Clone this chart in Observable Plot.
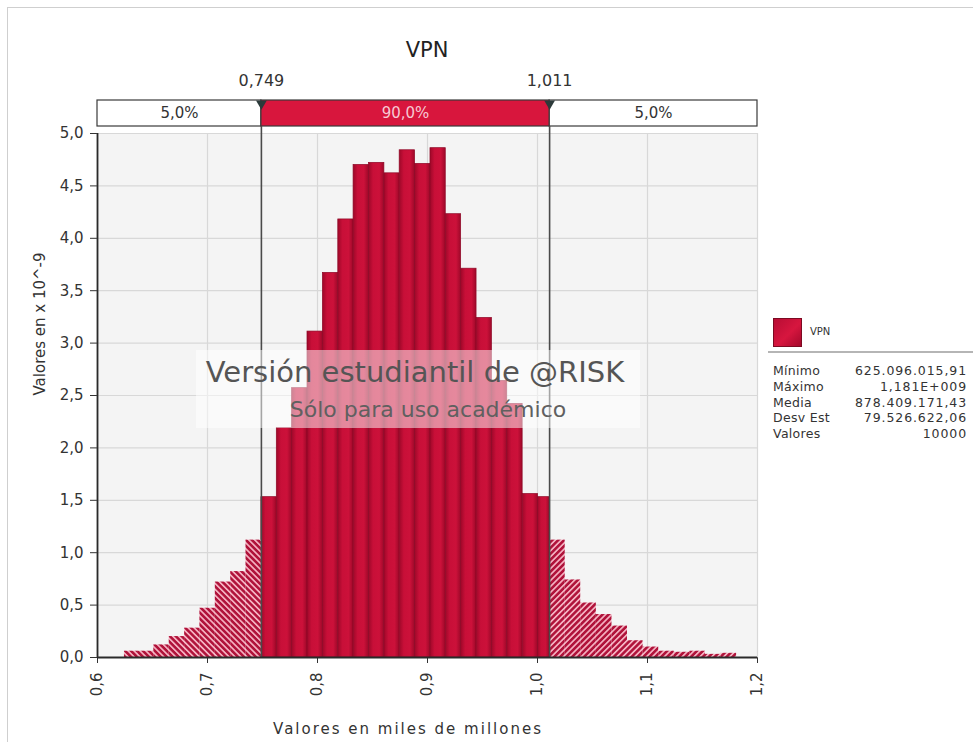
<!DOCTYPE html>
<html><head><meta charset="utf-8">
<script src="https://cdn.jsdelivr.net/npm/d3@7"></script>
<script src="https://cdn.jsdelivr.net/npm/@observablehq/plot@0.6"></script>
<style>
body{margin:0;background:#fff;font-family:"DejaVu Sans",sans-serif;}
#root{position:relative;width:973px;height:742px;overflow:hidden;background:#fff;}
.abs{position:absolute;white-space:nowrap;}
#root svg{overflow:visible;}
</style></head><body><div id="root"></div>
<script>
// ---- data ----
const binEdges = [0.6245,0.6372,0.6512,0.6652,0.6792,0.6931,0.7071,0.7211,0.7350,0.7490,
  0.7630,0.7769,0.7909,0.8049,0.8189,0.8328,0.8468,0.8608,0.8747,0.8887,0.9027,0.9166,0.9306,0.9446,0.9586,0.9725,0.9865,1.0005,1.0110,
  1.0252,1.0393,1.0535,1.0677,1.0818,1.0960,1.1102,1.1243,1.1385,1.1527,1.1668,1.1810];
const binDensity = [0.06,0.06,0.12,0.20,0.28,0.47,0.72,0.82,1.12,
  1.53,2.19,2.57,3.11,3.67,4.18,4.70,4.72,4.62,4.84,4.71,4.86,4.23,3.71,3.24,2.64,2.42,1.56,1.53,
  1.12,0.74,0.52,0.41,0.30,0.16,0.10,0.06,0.05,0.06,0.03,0.04];
const markerValues = [0.749, 1.011];
const markerLabels = ["0,749", "1,011"];
const bandEdges = [0.6, 0.749, 1.011, 1.2];
const bandLabels = ["5,0%", "90,0%", "5,0%"];
const xTicks = [0.6, 0.7, 0.8, 0.9, 1.0, 1.1, 1.2];
const yTicks = [0, 0.5, 1, 1.5, 2, 2.5, 3, 3.5, 4, 4.5, 5];
const statLabels = ["Mínimo", "Máximo", "Media", "Desv Est", "Valores"];
const statValues = ["625.096.015,91", "1,181E+009", "878.409.171,43", "79.526.622,06", "10000"];
const seriesName = "VPN";
const chartTitle = "VPN";
const xLabel = "Valores en miles de millones";
const yLabel = "Valores en x 10^-9";
const watermark1 = "Versión estudiantil de @RISK";
const watermark2 = "Sólo para uso académico";

// ---- derived tables ----
const [lo, hi] = markerValues;
const bins = binDensity.map((h, i) => ({x1: binEdges[i], x2: binEdges[i + 1], h}));
const solidBins = bins.filter(b => b.x1 >= lo - 1e-9 && b.x2 <= hi + 1e-9);
const leftBins = bins.filter(b => b.x2 <= lo + 1e-9);
const rightBins = bins.filter(b => b.x1 >= hi - 1e-9);
const markers = markerValues.map((v, i) => ({value: v, label: markerLabels[i]}));
const segs = bandLabels.map((l, i) => ({from: bandEdges[i], to: bandEdges[i + 1], label: l}));
const comma = d => d.toFixed(1).replace(".", ",");

const root = document.getElementById("root");
const FONT = "DejaVu Sans";
const ML = 97, MR = 216;

// outer frame
const frameDiv = document.createElement("div");
frameDiv.className = "abs";
frameDiv.style.cssText = "left:7px;top:7px;width:980px;height:760px;border:1px solid #cfcfcf;";
root.appendChild(frameDiv);

// title
const title = document.createElement("div");
title.className = "abs";
title.textContent = chartTitle;
title.style.cssText = `left:${ML}px;width:${973-ML-MR}px;top:38px;text-align:center;font-size:21px;line-height:24px;color:#222;`;
root.appendChild(title);

// ---- band plot (percentile bar) ----
const band = Plot.plot({
  width: 973, height: 66,
  marginLeft: ML, marginRight: MR, marginTop: 40, marginBottom: 0,
  x: {domain: [0.6, 1.2], axis: null},
  y: {domain: [0, 1], axis: null},
  style: {fontFamily: FONT, background: "transparent", overflow: "visible"},
  marks: [
    Plot.rect([segs[0], segs[2]], {x1: "from", x2: "to", y1: 0, y2: 1, fill: "white", stroke: "#3a3a3a", strokeWidth: 1.2}),
    Plot.rect([segs[1]], {x1: "from", x2: "to", y1: 0, y2: 1, fill: "#d8163d", stroke: "#3a3a3a", strokeWidth: 1.2}),
    Plot.text([segs[0], segs[2]], {x: d => (d.from + d.to) / 2, y: 0.5, text: "label", fill: "#333", fontSize: 15}),
    Plot.text([segs[1]], {x: d => (d.from + d.to) / 2, y: 0.5, text: "label", fill: "#f6c9d3", fontSize: 15}),
    Plot.dot(markers, {x: "value", y: 1, symbol: "triangle", r: 4, rotate: 180, fill: "#2c3a3a", dy: 3}),
    Plot.text(markers, {x: "value", y: 1, text: "label", dy: -20, fill: "#333", fontSize: 16})
  ]
});
band.style.position = "absolute"; band.style.left = "0px"; band.style.top = "60px";
root.appendChild(band);

// ---- main histogram ----
const main = Plot.plot({
  width: 973, height: 616,
  marginLeft: ML, marginRight: MR, marginTop: 7, marginBottom: 85,
  x: {domain: [0.6, 1.2], ticks: xTicks, tickFormat: comma, tickRotate: -90, tickSize: 6, tickPadding: 9, label: null},
  y: {domain: [0, 5], ticks: yTicks, tickFormat: comma, tickSize: 7, tickPadding: 7, label: null},
  style: {fontFamily: FONT, fontSize: "15px", color: "#333", background: "transparent", overflow: "visible"},
  marks: [
    Plot.frame({fill: "#f4f4f4", stroke: null}),
    Plot.ruleX(xTicks, {stroke: "#d8d8d8", strokeWidth: 1.2}),
    Plot.ruleY(yTicks, {stroke: "#d8d8d8", strokeWidth: 1.2}),
    Plot.rectY(solidBins, {x1: "x1", x2: "x2", y: "h", fill: "url(#barGrad)", stroke: "#8e0826", strokeWidth: 0.7}),
    Plot.rectY(leftBins, {x1: "x1", x2: "x2", y: "h", fill: "url(#hatchL)"}),
    Plot.rectY(rightBins, {x1: "x1", x2: "x2", y: "h", fill: "url(#hatchR)"}),
    Plot.ruleX(markers, {x: "value", stroke: "#4a4a4a", strokeWidth: 1.6, insetTop: -7}),
    Plot.ruleX([0.6], {stroke: "#2a2a2a", strokeWidth: 1.8}),
    Plot.ruleY([0], {stroke: "#2a2a2a", strokeWidth: 1.8}),
    Plot.text([yLabel], {text: d => d, frameAnchor: "left", rotate: -90, dx: -57, fontSize: 15, fill: "#333"})
  ]
});
// svg defs: gradient and hatch patterns
const defs = document.createElementNS("http://www.w3.org/2000/svg", "defs");
defs.innerHTML = `
<linearGradient id="barGrad" x1="0" x2="1" y1="0" y2="0">
  <stop offset="0" stop-color="#9e0829"/><stop offset="0.3" stop-color="#c80f38"/>
  <stop offset="0.7" stop-color="#cc113a"/><stop offset="1" stop-color="#9e0829"/>
</linearGradient>
<pattern id="hatchL" patternUnits="userSpaceOnUse" width="4.2" height="4.2" patternTransform="rotate(-45)">
  <rect width="4.2" height="4.2" fill="#b0123a"/><rect width="1.7" height="4.2" fill="#f4b0c0"/>
</pattern>
<pattern id="hatchR" patternUnits="userSpaceOnUse" width="4.2" height="4.2" patternTransform="rotate(45)">
  <rect width="4.2" height="4.2" fill="#b0123a"/><rect width="1.7" height="4.2" fill="#f4b0c0"/>
</pattern>`;
main.insertBefore(defs, main.firstChild);
main.style.position = "absolute"; main.style.left = "0px"; main.style.top = "126px";
root.appendChild(main);

// watermark overlay
const wm = document.createElement("div");
wm.className = "abs";
wm.style.cssText = "left:196px;top:350px;width:444px;height:78px;background:rgba(255,255,255,0.5);";
root.appendChild(wm);
const wm1 = document.createElement("div");
wm1.className = "abs"; wm1.textContent = watermark1;
wm1.style.cssText = "left:115px;width:600px;top:355px;text-align:center;font-size:29px;line-height:34px;color:#555;";
root.appendChild(wm1);
const wm2 = document.createElement("div");
wm2.className = "abs"; wm2.textContent = watermark2;
wm2.style.cssText = "left:128px;width:600px;top:397px;text-align:center;font-size:22px;line-height:26px;color:#606060;";
root.appendChild(wm2);

// x label
const xl = document.createElement("div");
xl.className = "abs"; xl.textContent = xLabel;
xl.style.cssText = "left:158px;width:500px;top:719px;text-align:center;font-size:15px;line-height:20px;letter-spacing:2px;color:#333;";
root.appendChild(xl);

// legend
const sw = document.createElement("div");
sw.className = "abs";
sw.style.cssText = "left:773px;top:318px;width:29px;height:29px;box-sizing:border-box;border:1px solid #7c0a22;background:linear-gradient(135deg,#b80d34,#d7163f 55%,#a5092c);";
root.appendChild(sw);
const sn = document.createElement("div");
sn.className = "abs"; sn.textContent = seriesName;
sn.style.cssText = "left:810px;top:326px;font-size:10px;line-height:12px;color:#333;";
root.appendChild(sn);
const sep = document.createElement("div");
sep.className = "abs";
sep.style.cssText = "left:768px;top:351px;width:205px;height:2px;background:#b5b5b5;";
root.appendChild(sep);
statLabels.forEach((l, i) => {
  const a = document.createElement("div");
  a.className = "abs"; a.textContent = l;
  a.style.cssText = `left:773px;top:${363 + i * 15.8}px;font-size:12.5px;line-height:15px;letter-spacing:0.3px;color:#333;`;
  root.appendChild(a);
  const b = document.createElement("div");
  b.className = "abs"; b.textContent = statValues[i];
  b.style.cssText = `right:${973 - 967}px;top:${363 + i * 15.8}px;font-size:12.5px;line-height:15px;letter-spacing:0.9px;color:#333;text-align:right;`;
  root.appendChild(b);
});
</script></body></html>
